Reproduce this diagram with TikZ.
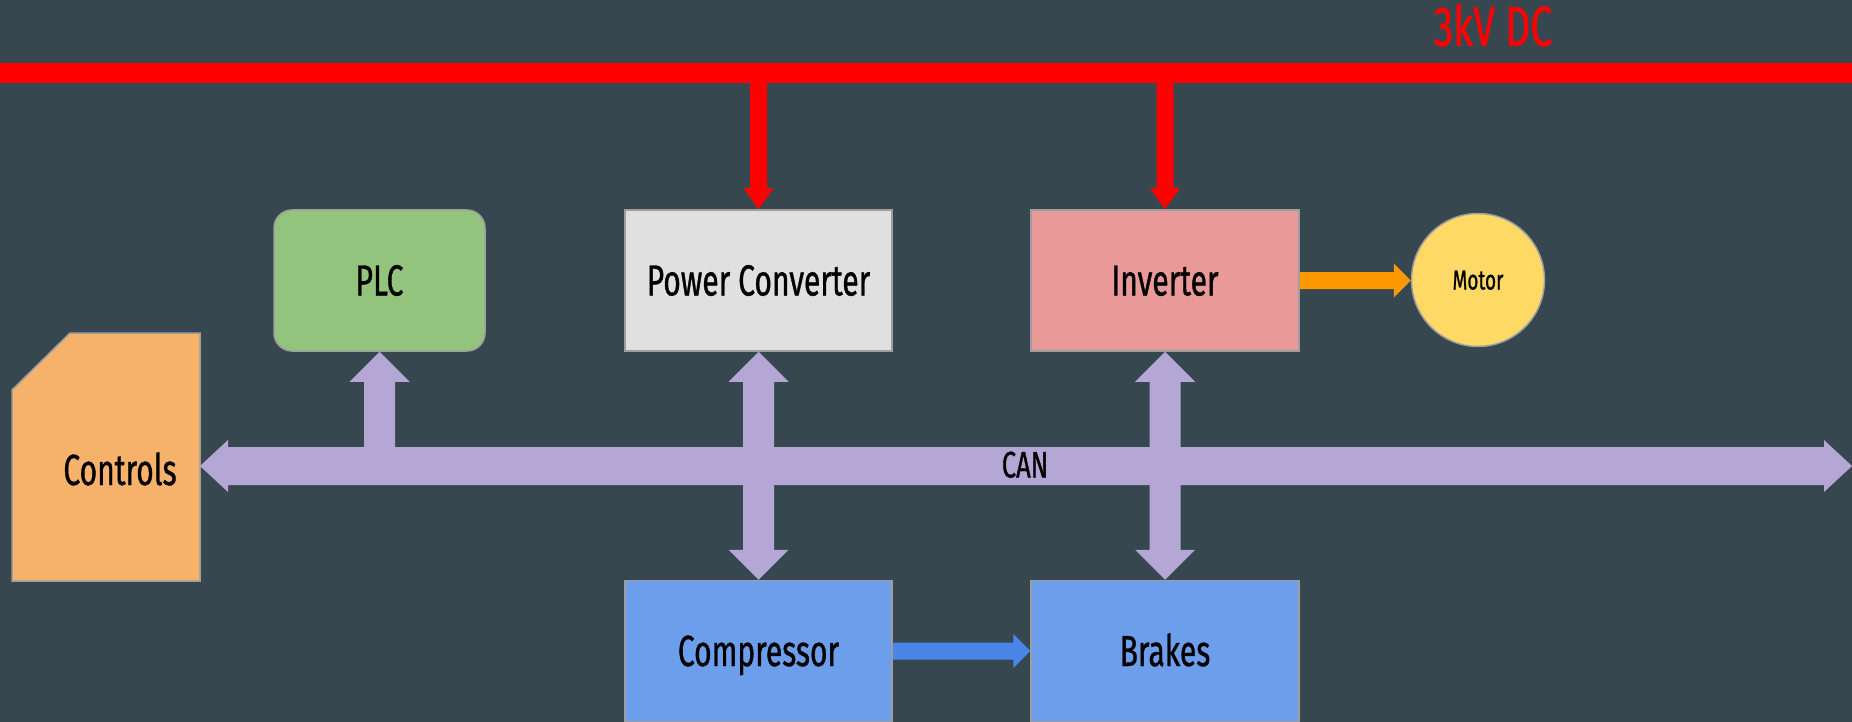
\documentclass[tikz,border=0pt]{standalone}
\usepackage{fontspec}
\setmainfont{Fira Sans}[FakeStretch=0.69,FakeBold=0.8]
\usetikzlibrary{calc}
\definecolor{bg}{HTML}{37474F}
\definecolor{bordc}{HTML}{9E9E9E}
\definecolor{plcc}{HTML}{93C47D}
\definecolor{pcc}{HTML}{E0E0E0}
\definecolor{invc}{HTML}{EA9999}
\definecolor{motc}{HTML}{FFD966}
\definecolor{ctrlc}{HTML}{F6B26B}
\definecolor{bluec}{HTML}{6D9EEB}
\definecolor{canc}{HTML}{B4A7D6}
\definecolor{orc}{HTML}{FF9900}
\definecolor{barrow}{HTML}{4A86E8}
\definecolor{dcred}{HTML}{FF0000}
\begin{document}
\begin{tikzpicture}[x=1pt,y=-1pt,
  box/.style={draw=bordc, line width=1.5pt, minimum width=267pt, minimum height=141pt,
    inner sep=0pt, text height=30pt, text depth=0pt, text=black,
    font=\fontsize{43.5}{50}\selectfont},
  lbl/.style={inner sep=0pt, text=black}]
\fill[bg] (0,0) rectangle (1852,722);
\useasboundingbox (0,0) rectangle (1852,722);

% DC bus
\fill[dcred] (0,63.5) rectangle (1852,83);
\coordinate (dcbus) at (926,73);
\node[inner sep=0pt, text=dcred, text height=39pt, text depth=0pt,
  font=\fontsize{56.6}{60}\selectfont] (dc) at (1493,26.5) {3kV DC};

% boxes
\node[box, fill=plcc, rounded corners=18pt, minimum width=211pt] (plc) at (379.5,280.5) {PLC};
\node[box, fill=pcc] (pc) at (758.5,280.5) {Power Converter};
\node[box, fill=invc, minimum width=268pt] (inv) at (1165,280.5) {Inverter};
\node[box, fill=bluec] (comp) at (758.5,651) {Compressor};
\node[box, fill=bluec, minimum width=268pt] (brk) at (1165,651) {Brakes};
\node[draw=bordc, line width=1.5pt, fill=motc, circle, minimum size=133pt, inner sep=0pt,
  text height=19pt, text depth=0pt, text=black, font=\fontsize{27.5}{30}\selectfont]
  (motor) at (1478,280) {Motor};

% controls
\node[minimum width=188pt, minimum height=248pt, inner sep=0pt, outer sep=0pt] (ctrl) at (106,457) {};
\draw[draw=bordc, line width=1.5pt, fill=ctrlc]
  ($(ctrl.north west)+(0,57)$) -- ($(ctrl.north west)+(58,0)$) -- (ctrl.north east)
  -- (ctrl.south east) -- (ctrl.south west) -- cycle;
\node[lbl, text height=30pt, text depth=0pt, font=\fontsize{43.5}{50}\selectfont] (ctrltxt) at (120,470) {Controls};

% red feed arrows
\foreach \b in {pc,inv}{
  \fill[dcred] let \p1=(\b.north), \p2=(dcbus) in
    (\x1,\y1) -- (\x1+15pt,\y1+21pt) -- (\x1+8.5pt,\y1+21pt) -- (\x1+8.5pt,\y2)
    -- (\x1-8.5pt,\y2) -- (\x1-8.5pt,\y1+21pt) -- (\x1-15pt,\y1+21pt) -- cycle;
}

% CAN bus
\coordinate (canR) at (1852,466);
\coordinate (canL) at (ctrl.east |- canR);
\fill[canc] let \p1=(canL), \p2=(canR) in
  (\x1,\y1) -- (\x1+28pt,\y1+26pt) -- (\x1+28pt,\y1+19pt) -- (\x2-28pt,\y1+19pt)
  -- (\x2-28pt,\y1+26pt) -- (\x2,\y2) -- (\x2-28pt,\y1-26pt) -- (\x2-28pt,\y1-19pt)
  -- (\x1+28pt,\y1-19pt) -- (\x1+28pt,\y1-26pt) -- cycle;

% PLC up arrow
\fill[canc] let \p1=(plc.south), \p2=(canL) in
  (\x1,\y1) -- (\x1+30pt,\y1-30pt) -- (\x1+15.5pt,\y1-30pt) -- (\x1+15.5pt,\y2)
  -- (\x1-15.5pt,\y2) -- (\x1-15.5pt,\y1-30pt) -- (\x1-30pt,\y1-30pt) -- cycle;

% double vertical arrows
\foreach \a/\b in {pc/comp,inv/brk}{
  \fill[canc] let \p1=(\a.south), \p2=(\b.north) in
    (\x1,\y1) -- (\x1+30pt,\y1-30pt) -- (\x1+15.5pt,\y1-30pt) -- (\x1+15.5pt,\y2+30pt)
    -- (\x1+30pt,\y2+30pt) -- (\x2,\y2) -- (\x1-30pt,\y2+30pt) -- (\x1-15.5pt,\y2+30pt)
    -- (\x1-15.5pt,\y1-30pt) -- (\x1-30pt,\y1-30pt) -- cycle;
}
\node[lbl, text height=25pt, text depth=0pt, font=\fontsize{37}{40}\selectfont] (can) at (1025,465) {CAN};

% horizontal arrows
\fill[orc] let \p1=(inv.east), \p2=(motor.west) in
  (\x1,\y1+8.5pt) -- (\x2-17pt,\y1+8.5pt) -- (\x2-17pt,\y1+17pt) -- (\x2,\y1)
  -- (\x2-17pt,\y1-17pt) -- (\x2-17pt,\y1-8.5pt) -- (\x1,\y1-8.5pt) -- cycle;
\fill[barrow] let \p1=(comp.east), \p2=(brk.west) in
  (\x1,\y1+8.5pt) -- (\x2-17pt,\y1+8.5pt) -- (\x2-17pt,\y1+17pt) -- (\x2,\y1)
  -- (\x2-17pt,\y1-17pt) -- (\x2-17pt,\y1-8.5pt) -- (\x1,\y1-8.5pt) -- cycle;
\end{tikzpicture}
\end{document}
